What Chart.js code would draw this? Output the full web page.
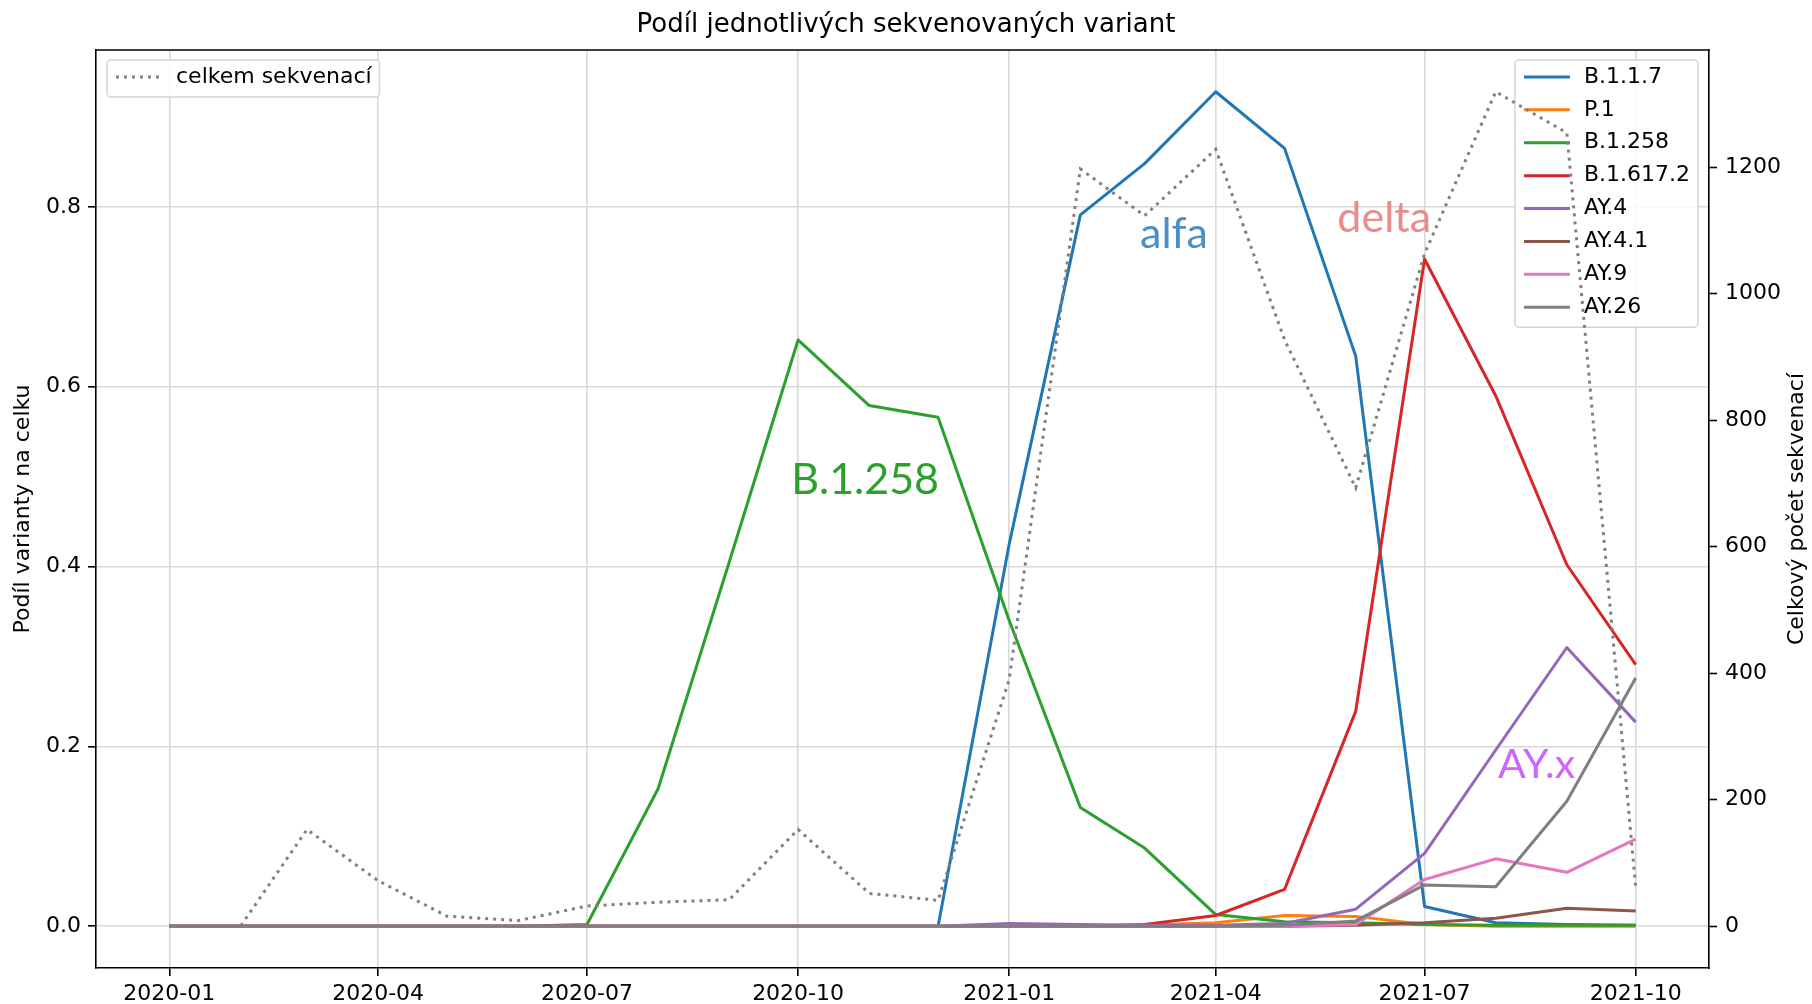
<!DOCTYPE html>
<html>
<head>
<meta charset="utf-8">
<script src="https://cdn.jsdelivr.net/npm/chart.js@4.4.1/dist/chart.umd.min.js"></script>
<style>
html,body{margin:0;padding:0;background:#fff;}
canvas{display:block;}
</style>
</head>
<body>
<canvas id="c" width="1812" height="1004"></canvas>
<script>
// ---------------- data ----------------
const months = ['2020-01','2020-02','2020-03','2020-04','2020-05','2020-06','2020-07','2020-08','2020-09','2020-10','2020-11','2020-12',
                '2021-01','2021-02','2021-03','2021-04','2021-05','2021-06','2021-07','2021-08','2021-09','2021-10'];
const xTickLabels = ['2020-01','2020-04','2020-07','2020-10','2021-01','2021-04','2021-07','2021-10'];
const leftTicks = [0, 0.2, 0.4, 0.6, 0.8];
const rightTicks = [0, 200, 400, 600, 800, 1000, 1200];

const seriesNames = ['B.1.1.7','P.1','B.1.258','B.1.617.2','AY.4','AY.4.1','AY.9','AY.26'];
const b117   = [0,0,0,0,0,0,0,0,0,0,0,0, 0.425,0.791,0.848,0.928,0.865,0.634,0.022,0.004,0.002,0.001];
const p1     = [0,0,0,0,0,0,0,0,0,0,0,0, 0,0,0.001,0.004,0.012,0.011,0.002,0,0,0];
const b1258  = [0,0,0,0,0,0,0.002,0.153,0.405,0.652,0.579,0.566, 0.34,0.132,0.087,0.013,0.005,0.004,0.002,0.001,0.001,0.001];
const b16172 = [0,0,0,0,0,0,0,0,0,0,0,0, 0,0,0.002,0.012,0.041,0.239,0.742,0.590,0.402,0.291];
const ay4    = [0,0,0,0,0,0,0,0,0,0,0,0, 0.003,0.002,0.001,0.001,0.003,0.019,0.081,0.196,0.310,0.227];
const ay41   = [0,0,0,0,0,0,0,0,0,0,0,0, 0,0,0,0,0,0.001,0.004,0.009,0.020,0.017];
const ay9    = [0,0,0,0,0,0,0,0,0,0,0,0, 0,0,0,0,0,0.002,0.052,0.075,0.060,0.097];
const ay26   = [0,0,0,0,0,0,0,0,0,0,0,0, 0,0,0,0,0.001,0.006,0.046,0.044,0.139,0.276];
const totalName = 'celkem sekvenací';
const totalSeq = [0,0,153,72,16,9,32,38,42,153,52,41, 390,1197,1123,1228,927,693,1063,1319,1254,62];

const titleText = 'Podíl jednotlivých sekvenovaných variant';
const leftAxisTitle = 'Podíl varianty na celku';
const rightAxisTitle = 'Celkový počet sekvenací';

// text labels placed in data units (date, left-axis value)
const noteTexts  = ['B.1.258', 'alfa', 'delta', 'AY.x'];
const noteDates  = ['2020-09-28', '2021-02-27', '2021-05-24', '2021-08-02'];
const noteValues = [0.481, 0.754, 0.772, 0.165];

// ---------------- helpers ----------------
const DAY = 86400000;
const ORIGIN = Date.UTC(2020, 0, 1);
function dayOf(s) {
  const p = s.split('-').map(Number);
  return (Date.UTC(p[0], p[1] - 1, p[2] || 1) - ORIGIN) / DAY;
}
const xs = months.map(dayOf);
function pts(arr) { return arr.map((v, i) => ({x: xs[i], y: v})); }

const seriesValues = [b117, p1, b1258, b16172, ay4, ay41, ay9, ay26];
const colors = ['#1f77b4','#ff7f0e','#2ca02c','#d62728','#9467bd','#8c564b','#e377c2','#7f7f7f'];
const noteColors = ['#2ca02c', '#4a90c8', '#ea8c8c', '#cc66ff'];

// matplotlib-like autoscale (5% margins)
function range(minV, maxV) { const s = maxV - minV; return [minV - 0.05 * s, maxV + 0.05 * s]; }
const xR = range(Math.min(...xs), Math.max(...xs));
const flatLeft = seriesValues.flat();
const yLR = range(Math.min(...flatLeft), Math.max(...flatLeft));
const yRR = range(Math.min(...totalSeq), Math.max(...totalSeq));

const FONT = 'DejaVu Sans';
const TICK_SIZE = 22;

const datasets = seriesNames.map((name, i) => ({
  label: name,
  data: pts(seriesValues[i]),
  yAxisID: 'y',
  borderColor: colors[i],
  backgroundColor: colors[i],
  borderWidth: 3,
  pointRadius: 0,
  borderJoinStyle: 'round',
  tension: 0,
  fill: false,
  order: 10 - i
}));
const totalIdx = datasets.length;
datasets.push({
  label: totalName,
  data: pts(totalSeq),
  yAxisID: 'y2',
  borderColor: '#808080',
  backgroundColor: '#808080',
  borderWidth: 3,
  borderDash: [3, 5],
  pointRadius: 0,
  tension: 0,
  fill: false,
  order: 0
});

function drawLegend(chart, items, side) {
  const ctx = chart.ctx, a = chart.chartArea;
  const rowH = 32.9, padL = 9, handle = 46, gap = 14, padR = 8;
  ctx.save();
  ctx.font = `${TICK_SIZE}px ${FONT}`;
  const tw = Math.max(...items.map(it => ctx.measureText(it.label).width));
  const w = padL + handle + gap + tw + padR;
  const h = items.length * rowH + 4;
  const x0 = side === 'left' ? a.left + 11 : a.right - 11 - w;
  const y0 = a.top + 10;
  ctx.beginPath();
  ctx.roundRect(x0, y0, w, h, 4);
  ctx.fillStyle = 'rgba(255,255,255,0.8)';
  ctx.fill();
  ctx.lineWidth = 1.5;
  ctx.strokeStyle = '#d4d4d4';
  ctx.stroke();
  items.forEach((it, i) => {
    const cy = y0 + 0.5 + rowH * (i + 0.5);
    ctx.beginPath();
    ctx.setLineDash(it.dash || []);
    ctx.lineWidth = 3;
    ctx.strokeStyle = it.color;
    ctx.moveTo(x0 + padL, cy);
    ctx.lineTo(x0 + padL + handle, cy);
    ctx.stroke();
    ctx.setLineDash([]);
    ctx.fillStyle = '#000';
    ctx.textAlign = 'left';
    ctx.textBaseline = 'middle';
    ctx.fillText(it.label, x0 + padL + handle + gap, cy);
  });
  ctx.restore();
}

const extras = {
  id: 'extras',
  beforeDatasetDraw(chart, args) {
    if (args.index === totalIdx) {
      drawLegend(chart, seriesNames.map((n, i) => ({label: n, color: colors[i]})), 'right');
    }
  },
  afterDatasetsDraw(chart) {
    const ctx = chart.ctx, a = chart.chartArea;
    // top spine
    ctx.save();
    ctx.strokeStyle = '#000';
    ctx.lineWidth = 1.6;
    ctx.beginPath();
    ctx.moveTo(a.left - 0.8, a.top);
    ctx.lineTo(a.right + 0.8, a.top);
    ctx.stroke();
    ctx.restore();
    drawLegend(chart, [{label: totalName, color: '#808080', dash: [3, 5]}], 'left');
    // text notes
    const xs_ = chart.scales.x, ys_ = chart.scales.y;
    ctx.save();
    ctx.textAlign = 'left';
    ctx.textBaseline = 'alphabetic';
    noteTexts.forEach((t, i) => {
      ctx.font = `${t === 'AY.x' ? 41 : 43}px Lato`;
      ctx.fillStyle = noteColors[i];
      ctx.fillText(t, xs_.getPixelForValue(dayOf(noteDates[i])), ys_.getPixelForValue(noteValues[i]));
    });
    ctx.restore();
  },
  afterDraw(chart) {
    const ctx = chart.ctx, a = chart.chartArea;
    const cy = (a.top + a.bottom) / 2;
    ctx.save();
    ctx.font = `${TICK_SIZE}px ${FONT}`;
    ctx.fillStyle = '#000';
    ctx.textAlign = 'center';
    ctx.textBaseline = 'middle';
    ctx.translate(23, cy);
    ctx.rotate(-Math.PI / 2);
    ctx.fillText(leftAxisTitle, 0, 0);
    ctx.restore();
    ctx.save();
    ctx.font = `${TICK_SIZE}px ${FONT}`;
    ctx.fillStyle = '#000';
    ctx.textAlign = 'center';
    ctx.textBaseline = 'middle';
    ctx.translate(chart.width - 15, cy);
    ctx.rotate(-Math.PI / 2);
    ctx.fillText(rightAxisTitle, 0, 0);
    ctx.restore();
  }
};

const tickFont = {family: FONT, size: TICK_SIZE};
new Chart(document.getElementById('c'), {
  type: 'line',
  data: {datasets},
  plugins: [extras],
  options: {
    responsive: false,
    animation: false,
    devicePixelRatio: 1,
    events: [],
    layout: {padding: 0},
    plugins: {
      legend: {display: false},
      tooltip: {enabled: false},
      title: {
        display: true,
        text: titleText,
        color: '#000',
        font: {family: FONT, size: 26, weight: 'normal', lineHeight: 1.2},
        padding: {top: 10, bottom: 8.8}
      }
    },
    scales: {
      x: {
        type: 'linear',
        position: 'bottom',
        min: xR[0], max: xR[1],
        afterBuildTicks(s) { s.ticks = xTickLabels.map(l => ({value: dayOf(l)})); },
        afterFit(s) { s.height = 36; },
        ticks: {
          autoSkip: false, maxRotation: 0, minRotation: 0, padding: 5,
          color: '#000', font: tickFont,
          callback(v) { const i = xTickLabels.findIndex(l => dayOf(l) === v); return i >= 0 ? xTickLabels[i] : ''; }
        },
        grid: {display: true, color: '#d9d9d9', lineWidth: 1.6, drawTicks: true, tickLength: 8, tickColor: '#000', tickWidth: 1.6},
        border: {display: true, color: '#000', width: 1.6}
      },
      y: {
        type: 'linear',
        position: 'left',
        min: yLR[0], max: yLR[1],
        afterBuildTicks(s) { s.ticks = leftTicks.map(v => ({value: v})); },
        afterFit(s) { s.width = 96; },
        ticks: {padding: 7, color: '#000', font: tickFont, callback(v) { return v.toFixed(1); }},
        grid: {display: true, color: '#d9d9d9', lineWidth: 1.6, drawTicks: true, tickLength: 8, tickColor: '#000', tickWidth: 1.6},
        border: {display: true, color: '#000', width: 1.6}
      },
      y2: {
        type: 'linear',
        position: 'right',
        min: yRR[0], max: yRR[1],
        afterBuildTicks(s) { s.ticks = rightTicks.map(v => ({value: v})); },
        afterFit(s) { s.width = 103; },
        ticks: {padding: 8, color: '#000', font: tickFont, callback(v) { return String(v); }},
        grid: {display: true, drawOnChartArea: false, drawTicks: true, tickLength: 8, tickColor: '#000', tickWidth: 1.6},
        border: {display: true, color: '#000', width: 1.6}
      }
    }
  }
});
</script>
</body>
</html>
